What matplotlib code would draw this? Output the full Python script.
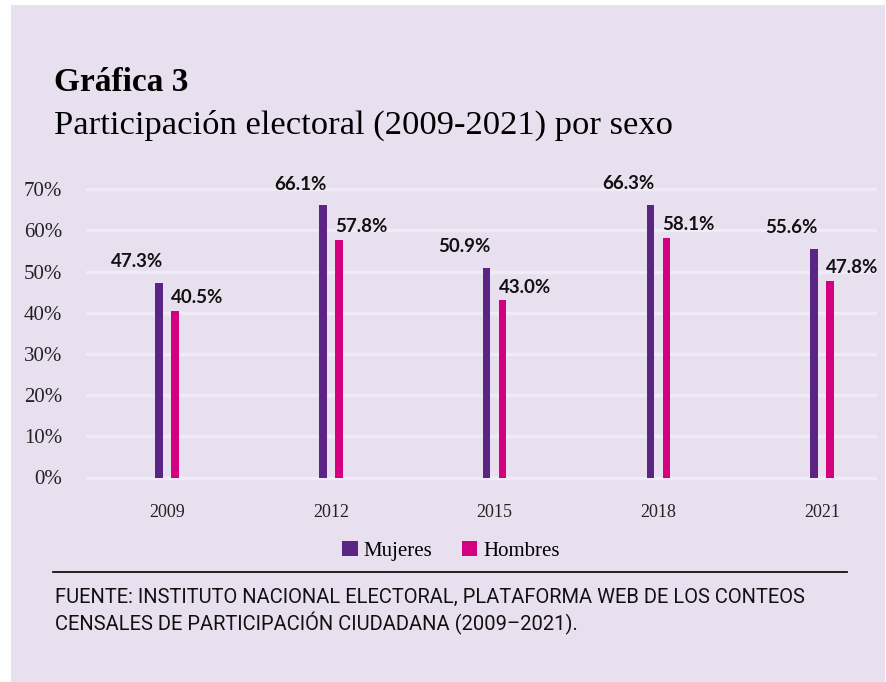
import matplotlib
matplotlib.use("Agg")
import matplotlib.pyplot as plt
from matplotlib.patches import Rectangle, Patch
from matplotlib.lines import Line2D
import numpy as np

years = ["2009", "2012", "2015", "2018", "2021"]
mujeres = [47.3, 66.1, 50.9, 66.3, 55.6]
hombres = [40.5, 57.8, 43.0, 58.1, 47.8]
y_ticks = [0, 10, 20, 30, 40, 50, 60, 70]

BG = "#e8e0ef"
GRID = "#f0ebf6"
C_MUJ = "#5b2586"
C_HOM = "#d4007f"

W, H = 886, 682
fig = plt.figure(figsize=(W / 100, H / 100), dpi=100)
fig.patch.set_facecolor("white")

# lavender panel behind everything
fig.add_artist(Rectangle((11 / W, 0), (885 - 11) / W, 1 - 5 / H,
                         transform=fig.transFigure, facecolor=BG,
                         edgecolor="none", zorder=-10))

serif = ["Liberation Serif", "DejaVu Serif"]
sans_b = ["Lato", "Roboto", "DejaVu Sans"]
narrow = ["Roboto", "DejaVu Sans"]

fig.text(54 / W, 1 - 91 / H, "Gráfica 3", family=serif, fontweight="bold",
         fontsize=24, ha="left", va="baseline")
fig.text(54 / W, 1 - 134 / H, "Participación electoral (2009-2021) por sexo",
         family=serif, fontsize=24.8, ha="left", va="baseline")

# axes: 0% at y=477.5, 10% = 41.17 px
px10 = 41.17
y0 = 477.5
ylo, yhi = -1, 72
bottom = y0 + (0 - ylo) * px10 / 10
top = y0 - yhi * px10 / 10
ax = fig.add_axes([86 / W, 1 - bottom / H, (877 - 86) / W, (bottom - top) / H])
ax.set_facecolor("none")
step = 163.8
ax.set_xlim((86 - 167) / step, (877 - 167) / step)
ax.set_ylim(ylo, yhi)

x = np.arange(len(years))
off = 8 / step
bw = 7.5 / step
ax.bar(x - off, mujeres, width=bw, color=C_MUJ, zorder=3)
ax.bar(x + off, hombres, width=bw, color=C_HOM, zorder=3)

for xi, v in zip(x, mujeres):
    ax.annotate(f"{v:.1f}%", (xi - off + bw / 2, v), xytext=(0, 9),
                textcoords="offset points", ha="right", va="bottom",
                family=sans_b, fontweight="bold", fontsize=13.5, color="#111111")
for xi, v in zip(x, hombres):
    ax.annotate(f"{v:.1f}%", (xi + off - bw / 2, v), xytext=(0, 3.5),
                textcoords="offset points", ha="left", va="bottom",
                family=sans_b, fontweight="bold", fontsize=13.5, color="#111111")

ax.set_yticks(y_ticks)
ax.set_yticklabels([f"{t}%" for t in y_ticks], family=serif, fontsize=15,
                   color="#222222")
ax.set_xticks(x)
ax.set_xticklabels(years, family=serif, fontsize=13, color="#222222")
ax.tick_params(axis="y", length=0, pad=17)
ax.tick_params(axis="x", length=0, pad=16)
ax.grid(True, axis="y", color=GRID, linewidth=2.5, zorder=0)
for s in ax.spines.values():
    s.set_visible(False)

handles = [Patch(facecolor=C_MUJ, label="Mujeres"),
           Patch(facecolor=C_HOM, label="Hombres")]
fig.legend(handles=handles, loc="center", bbox_to_anchor=(451 / W, 1 - 551 / H),
           ncol=2, frameon=False, prop={"family": serif, "size": 15},
           handlelength=0.75, handleheight=0.75, handletextpad=0.3,
           columnspacing=1.4)

fig.add_artist(Line2D([53 / W, 847 / W], [1 - 572 / H, 1 - 572 / H],
                      transform=fig.transFigure, color="#111111", linewidth=1.3))

fig.text(55 / W, 1 - 603 / H,
         "FUENTE: INSTITUTO NACIONAL ELECTORAL, PLATAFORMA WEB DE LOS CONTEOS",
         family=narrow, fontsize=14.5, ha="left", va="baseline", color="#111111")
fig.text(55 / W, 1 - 630 / H,
         "CENSALES DE PARTICIPACIÓN CIUDADANA (2009–2021).",
         family=narrow, fontsize=14.5, ha="left", va="baseline", color="#111111")

fig.savefig("out.png", dpi=100, facecolor=fig.get_facecolor())
